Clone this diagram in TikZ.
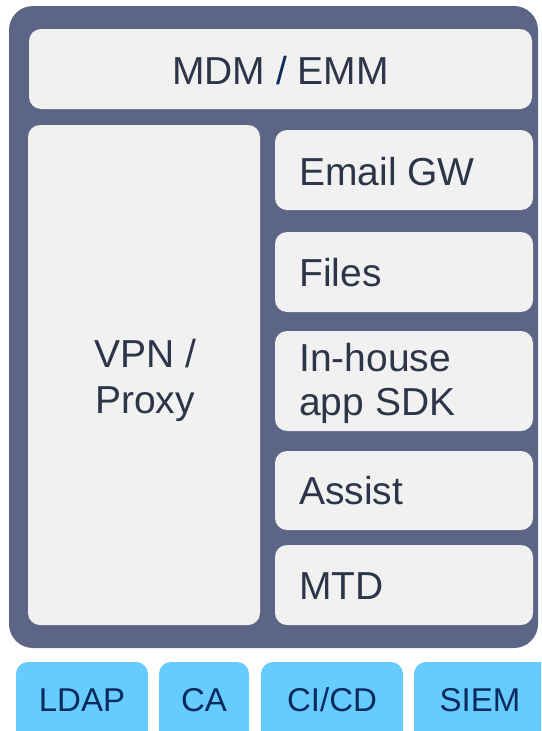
\documentclass[tikz,border=0pt]{standalone}
\usepackage{fontspec}
\setmainfont{Liberation Sans}
\definecolor{frame}{HTML}{5C6585}
\definecolor{pane}{HTML}{F1F1F1}
\definecolor{ink}{HTML}{2F3548}
\definecolor{sky}{HTML}{66CCFF}
\definecolor{navy}{HTML}{0B2A5C}
\tikzset{
  panebox/.style={fill=pane, rounded corners=12pt, inner sep=0pt, draw=none},
  skybox/.style={fill=sky, rounded corners=12pt, inner sep=0pt, draw=none},
  bigtxt/.style={text=ink, font=\fontsize{39}{45}\selectfont, inner sep=0pt, align=left},
  smalltxt/.style={text=navy, font=\fontsize{33}{38}\selectfont, inner sep=0pt},
}
\begin{document}
\begin{tikzpicture}[x=1pt,y=-1pt]
\useasboundingbox (0,0) rectangle (541,731);
\begin{scope}
\clip (0,0) rectangle (541,731);
\node[fill=frame, rounded corners=24pt, inner sep=0pt, minimum width=529pt, minimum height=642pt] (outer) at (273.5,327) {};
\node[panebox, minimum width=503pt, minimum height=80pt] (mdm) at (280.5,69) {};
\node[panebox, minimum width=232pt, minimum height=500pt] (vpn) at (144,375) {};
\node[panebox, minimum width=258pt, minimum height=80pt] (email) at (404,170) {};
\node[panebox, minimum width=258pt, minimum height=80pt] (files) at (404,272) {};
\node[panebox, minimum width=258pt, minimum height=100pt] (inhouse) at (404,381) {};
\node[panebox, minimum width=258pt, minimum height=79pt] (assist) at (404,490.5) {};
\node[panebox, minimum width=258pt, minimum height=80pt] (mtd) at (404,585) {};
\node[skybox, minimum width=132pt, minimum height=90pt] (ldap) at (82,707) {};
\node[skybox, minimum width=90pt, minimum height=90pt] (ca) at (204,707) {};
\node[skybox, minimum width=142pt, minimum height=90pt] (cicd) at (332,707) {};
\node[skybox, minimum width=141pt, minimum height=90pt] (siem) at (484.5,707) {};
\end{scope}
\node[bigtxt, anchor=base] (tmdm) at (280.5,84) {MDM {\color{navy}/} EMM};
\node[bigtxt, anchor=base, align=center] (tvpn) at (145,367) {VPN /};
\node[bigtxt, anchor=base, align=center] (tproxy) at (145,413) {Proxy};
\node[bigtxt, anchor=base west] (temail) at (299,185) {Email GW};
\node[bigtxt, anchor=base west] (tfiles) at (299,286) {Files};
\node[bigtxt, anchor=base west] (tin) at (299,371) {In-house};
\node[bigtxt, anchor=base west] (tapp) at (299,415) {app SDK};
\node[bigtxt, anchor=base west] (tassist) at (299,504) {Assist};
\node[bigtxt, anchor=base west] (tmtd) at (299,599) {MTD};
\node[smalltxt, anchor=base] (tldap) at (82,711) {LDAP};
\node[smalltxt, anchor=base] (tca) at (204,711) {CA};
\node[smalltxt, anchor=base] (tcicd) at (332,711) {CI/CD};
\node[smalltxt, anchor=base] (tsiem) at (480,711) {SIEM};
\end{tikzpicture}
\end{document}
